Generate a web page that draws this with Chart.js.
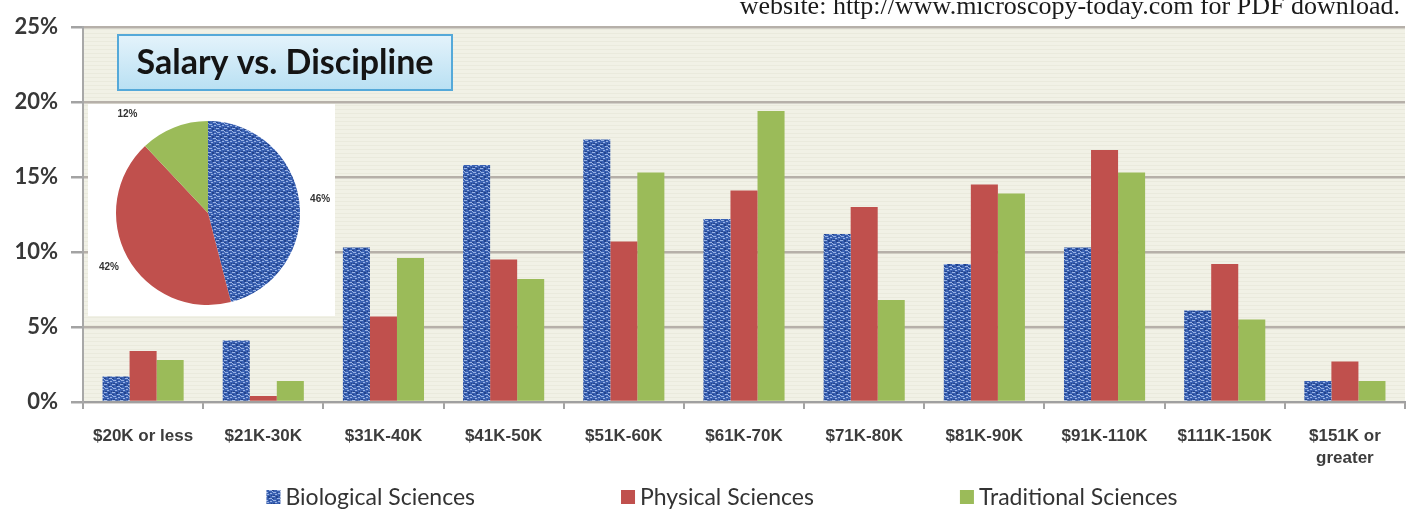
<!DOCTYPE html>
<html>
<head>
<meta charset="utf-8">
<title>Salary vs. Discipline</title>
<script src="https://cdn.jsdelivr.net/npm/chart.js@4.4.1/dist/chart.umd.min.js"></script>
<style>
  html, body { margin: 0; padding: 0; background: #fff; }
  #wrap { position: relative; width: 1408px; height: 510px; overflow: hidden; }
  #note { position: absolute; right: 8px; top: -7px; font: 26px 'Liberation Serif', 'DejaVu Serif', serif;
          line-height: 26px; color: #1a1a1a; white-space: nowrap; }
  #pieBox { position: absolute; left: 88px; top: 104px; width: 247px; height: 212px; background: #fff; }
  #pieChart { position: absolute; left: 0; top: 0; }
</style>
</head>
<body>
<div id="wrap">
  <canvas id="barChart" width="1408" height="510"></canvas>
  <div id="note">website: http://www.microscopy-today.com for PDF download.</div>
  <div id="pieBox"><canvas id="pieChart" width="247" height="212"></canvas></div>
</div>
<script>
// salary bands (x axis)
const categories = [
  '$20K or less', '$21K-30K', '$31K-40K', '$41K-50K', '$51K-60K', '$61K-70K',
  '$71K-80K', '$81K-90K', '$91K-110K', '$111K-150K', ['$151K or', 'greater']
];
const seriesNames = ['Biological Sciences', 'Physical Sciences', 'Traditional Sciences'];

// percent of respondents per band
const biological  = [1.7, 4.1, 10.3, 15.8, 17.5, 12.2, 11.2, 9.2, 10.3, 6.1, 1.4];
const physical    = [3.4, 0.4, 5.7, 9.5, 10.7, 14.1, 13.0, 14.5, 16.8, 9.2, 2.7];
const traditional = [2.8, 1.4, 9.6, 8.2, 15.3, 19.4, 6.8, 13.9, 15.3, 5.5, 1.4];

// inset pie: share of respondents by discipline
const pieShares = [46, 42, 12];

const yTicks = [0, 5, 10, 15, 20, 25];

const RED = '#c0504d';
const GREEN = '#9bbb59';

// speckled blue fill used for the biological series
function speckle() {
    const c = document.createElement('canvas');
    c.width = 8; c.height = 8;
    const g = c.getContext('2d');
    g.fillStyle = '#3a61b2';
    g.fillRect(0, 0, 8, 8);
    g.fillStyle = '#98b2e4';
    [[0, 0, 3, 1], [5, 2, 3, 1], [1, 4, 3, 1], [6, 5, 2, 1], [3, 6, 2, 1], [0, 3, 1, 1]]
        .forEach(r => g.fillRect(r[0], r[1], r[2], r[3]));
    g.fillStyle = '#22438c';
    [[4, 0, 2, 2], [0, 2, 2, 1], [5, 4, 1, 1], [1, 7, 2, 1], [7, 7, 1, 1]]
        .forEach(r => g.fillRect(r[0], r[1], r[2], r[3]));
    return g.createPattern(c, 'repeat');
}
const BLUE = speckle();

// beige striped plot background
const plotBackground = {
    id: 'plotBackground',
    beforeDraw(chart) {
        const { ctx, chartArea: a } = chart;
        ctx.save();
        ctx.fillStyle = '#f1f1e6';
        ctx.fillRect(a.left, a.top, a.right - a.left, a.bottom - a.top);
        ctx.fillStyle = '#eaeadd';
        for (let y = a.top + 2; y < a.bottom; y += 4) {
            ctx.fillRect(a.left, y, a.right - a.left, 1);
        }
        ctx.restore();
    }
};

// title box and legend row
const decorations = {
    id: 'decorations',
    afterDraw(chart) {
        const ctx = chart.ctx;
        ctx.save();

        // title box
        const bx = 118, by = 35, bw = 334, bh = 55;
        const grad = ctx.createLinearGradient(0, by, 0, by + bh);
        grad.addColorStop(0, '#e4f3fb');
        grad.addColorStop(1, '#b9e0f3');
        ctx.fillStyle = grad;
        ctx.fillRect(bx, by, bw, bh);
        ctx.strokeStyle = '#55a9d9';
        ctx.lineWidth = 2;
        ctx.strokeRect(bx, by, bw, bh);
        ctx.fillStyle = '#141414';
        ctx.font = 'bold 34px Lato, "Open Sans", sans-serif';
        ctx.textAlign = 'center';
        ctx.textBaseline = 'middle';
        ctx.fillText('Salary vs. Discipline', bx + bw / 2, by + bh / 2 + 1);

        // legend
        ctx.font = '23px Lato, "Open Sans", sans-serif';
        ctx.textAlign = 'left';
        const box = 14, gapText = 5, gapItem = 146, cx = 722, cy = 497;
        const sets = chart.data.datasets;
        const widths = sets.map(d => box + gapText + ctx.measureText(d.label).width);
        const total = widths.reduce((s, w) => s + w, 0) + gapItem * (sets.length - 1);
        let x = cx - total / 2;
        sets.forEach((d, i) => {
            ctx.fillStyle = d.backgroundColor;
            ctx.fillRect(x, cy - box / 2, box, box);
            ctx.fillStyle = '#333';
            ctx.fillText(d.label, x + box + gapText, cy + 1);
            x += widths[i] + gapItem;
        });
        ctx.restore();
    }
};

new Chart(document.getElementById('barChart'), {
    type: 'bar',
    data: {
        labels: categories,
        datasets: [
            { label: seriesNames[0], data: biological, backgroundColor: BLUE },
            { label: seriesNames[1], data: physical, backgroundColor: RED },
            { label: seriesNames[2], data: traditional, backgroundColor: GREEN }
        ]
    },
    options: {
        responsive: false,
        animation: false,
        devicePixelRatio: 1,
        layout: { padding: { left: 0, right: 3, top: 27, bottom: 30 } },
        datasets: { bar: { barPercentage: 1, categoryPercentage: 0.675, borderWidth: 0 } },
        plugins: {
            legend: { display: false },
            tooltip: { enabled: false }
        },
        scales: {
            x: {
                grid: { drawOnChartArea: false, drawTicks: true, tickLength: 7, color: '#a3a3a3', lineWidth: 2 },
                border: { color: '#a0a0a0', width: 2 },
                ticks: {
                    autoSkip: false, maxRotation: 0, padding: 16,
                    color: '#3c3c3c',
                    font: { family: '"Liberation Sans", Arial, sans-serif', size: 17, weight: 'bold', lineHeight: 1.3 }
                },
                afterFit(s) { s.height = 78; }
            },
            y: {
                min: 0, max: 25,
                afterBuildTicks(s) { s.ticks = yTicks.map(v => ({ value: v })); },
                grid: { color: '#b6b0a9', lineWidth: 2.5, tickLength: 12, tickColor: '#a3a3a3' },
                border: { color: '#a8a8a8', width: 2 },
                ticks: {
                    padding: 13,
                    color: '#383838',
                    font: { family: 'Lato, "Open Sans", sans-serif', size: 22, weight: 'bold' },
                    callback: v => v + '%'
                },
                afterFit(s) { s.width = 83; }
            }
        }
    },
    plugins: [plotBackground, decorations]
});

// inset pie with outside percentage labels
const pieLabelShift = [[0, 0], [0, 0], [-39, 6]];
const pieLabels = {
    id: 'pieLabels',
    afterDatasetsDraw(chart) {
        const ctx = chart.ctx;
        const meta = chart.getDatasetMeta(0);
        const total = pieShares.reduce((s, v) => s + v, 0);
        ctx.save();
        ctx.font = 'bold 10px "Liberation Sans", Arial, sans-serif';
        ctx.fillStyle = '#333';
        ctx.textAlign = 'center';
        ctx.textBaseline = 'middle';
        meta.data.forEach((arc, i) => {
            const mid = (arc.startAngle + arc.endAngle) / 2;
            const d = arc.outerRadius + 21;
            const x = arc.x + Math.cos(mid) * d + pieLabelShift[i][0];
            const y = arc.y + Math.sin(mid) * d + pieLabelShift[i][1];
            ctx.fillText(Math.round(pieShares[i] / total * 100) + '%', x, y);
        });
        ctx.restore();
    }
};

new Chart(document.getElementById('pieChart'), {
    type: 'pie',
    data: {
        labels: seriesNames,
        datasets: [{ data: pieShares, backgroundColor: [BLUE, RED, GREEN], borderWidth: 0 }]
    },
    options: {
        responsive: false,
        animation: false,
        devicePixelRatio: 1,
        layout: { padding: { left: 13, right: 20, top: 17, bottom: 11 } },
        plugins: { legend: { display: false }, tooltip: { enabled: false } }
    },
    plugins: [pieLabels]
});
</script>
</body>
</html>
